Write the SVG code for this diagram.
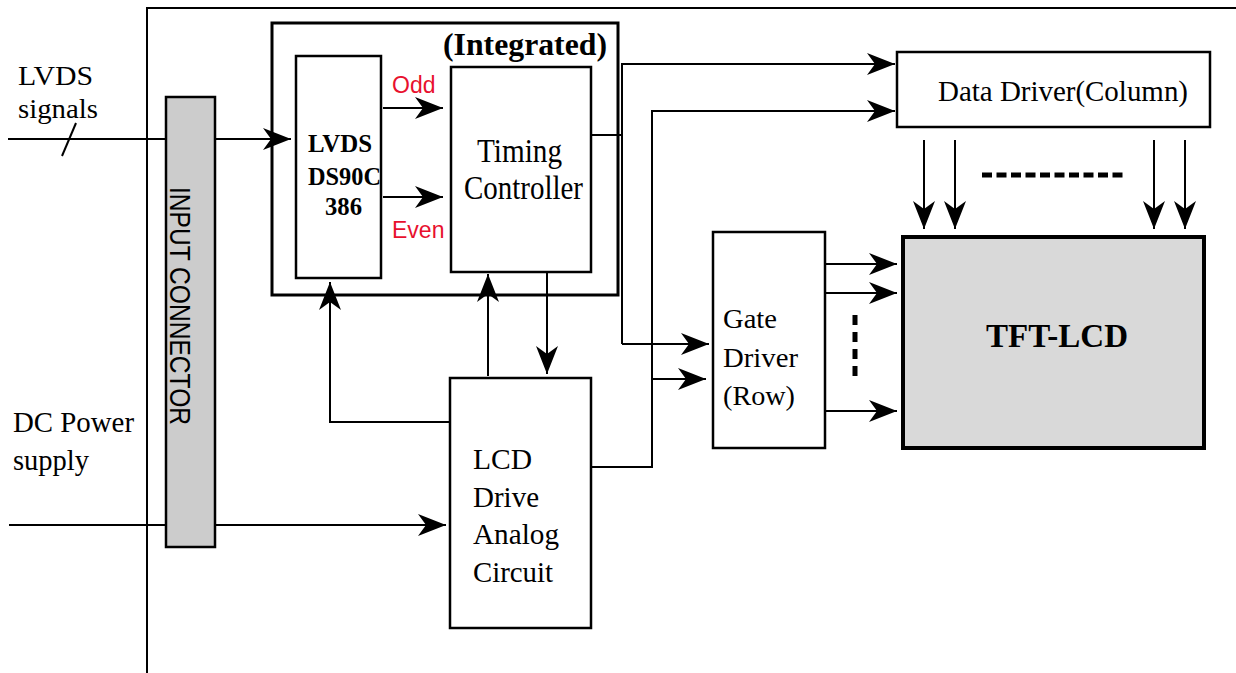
<svg xmlns="http://www.w3.org/2000/svg" width="1236" height="673" viewBox="0 0 1236 673">
<style>
.ln{fill:none;stroke:#000;stroke-width:2}
.box{fill:#fff;stroke:#000;stroke-width:2.5}
.serif{font-family:"Liberation Serif","Times New Roman",serif;fill:#000}
.bold{font-family:"Liberation Serif","Times New Roman",serif;font-weight:bold;fill:#000}
.sans{font-family:"Liberation Sans",Arial,sans-serif;fill:#000}
.red{font-family:"Liberation Sans",Arial,sans-serif;fill:#e8102e}
</style>
<defs>
<marker id="ah" markerUnits="userSpaceOnUse" markerWidth="30" markerHeight="22" refX="28" refY="11" orient="auto">
<path d="M0,0 L28,11 L0,22 L8,11 Z" fill="#000"/>
</marker>
</defs>
<rect width="1236" height="673" fill="#fff"/>
<g id="frame">
<path class="ln" d="M147,673 V8 H1236"/>
</g>
<g id="connectors">
<path class="ln" d="M8,139 H291" marker-end="url(#ah)"/>
<path class="ln" d="M62,156 L76,123"/>
<path class="ln" d="M9,525 H446" marker-end="url(#ah)"/>
<path class="ln" d="M383,108 H443" marker-end="url(#ah)"/>
<path class="ln" d="M383,197 H443" marker-end="url(#ah)"/>
<path class="ln" d="M450,422 H330 V282" marker-end="url(#ah)"/>
<path class="ln" d="M488,376 V274" marker-end="url(#ah)"/>
<path class="ln" d="M547,272 V374" marker-end="url(#ah)"/>
<path class="ln" d="M591,135 H622"/>
<path class="ln" d="M622,344 V64 H895" marker-end="url(#ah)"/>
<path class="ln" d="M622,344 H709" marker-end="url(#ah)"/>
<path class="ln" d="M591,467 H652 V111 H895" marker-end="url(#ah)"/>
<path class="ln" d="M652,379 H706" marker-end="url(#ah)"/>
<path class="ln" d="M924,140 V229" marker-end="url(#ah)"/>
<path class="ln" d="M955,140 V229" marker-end="url(#ah)"/>
<path class="ln" d="M1154,140 V229" marker-end="url(#ah)"/>
<path class="ln" d="M1185,140 V229" marker-end="url(#ah)"/>
<path d="M982,175 H1127" fill="none" stroke="#000" stroke-width="5" stroke-dasharray="10,4.5"/>
<path class="ln" d="M825,264 H897" marker-end="url(#ah)"/>
<path class="ln" d="M825,293 H897" marker-end="url(#ah)"/>
<path class="ln" d="M825,411 H897" marker-end="url(#ah)"/>
<path d="M855,315 V380" fill="none" stroke="#000" stroke-width="5" stroke-dasharray="10,7"/>
</g>
<g id="lvds-label">
<text class="serif" x="18" y="85" font-size="28" textLength="75" lengthAdjust="spacingAndGlyphs">LVDS</text>
<text class="serif" x="18" y="118" font-size="28" textLength="80" lengthAdjust="spacingAndGlyphs">signals</text>
</g>
<g id="dc-label">
<text class="serif" x="13" y="432" font-size="30" textLength="121" lengthAdjust="spacingAndGlyphs">DC Power</text>
<text class="serif" x="13" y="470" font-size="30" textLength="76" lengthAdjust="spacingAndGlyphs">supply</text>
</g>
<g id="input-connector">
<rect x="166" y="97" width="49" height="450" fill="#cccccc" stroke="#000" stroke-width="2.5"/>
<text class="sans" font-size="29" transform="translate(170,187) rotate(90)" textLength="238" lengthAdjust="spacingAndGlyphs">INPUT CONNECTOR</text>
</g>
<g id="integrated">
<rect x="272" y="23" width="346" height="272" fill="none" stroke="#000" stroke-width="3"/>
<text class="bold" x="443" y="55" font-size="32" textLength="164" lengthAdjust="spacingAndGlyphs">(Integrated)</text>
</g>
<g id="lvds-box">
<rect class="box" x="296" y="56" width="85" height="222"/>
<text class="bold" font-size="26" x="308" y="152" textLength="64" lengthAdjust="spacingAndGlyphs">LVDS</text>
<text class="bold" font-size="26" x="308" y="185" textLength="73" lengthAdjust="spacingAndGlyphs">DS90C</text>
<text class="bold" font-size="26" x="325" y="215" textLength="37" lengthAdjust="spacingAndGlyphs">386</text>
</g>
<g id="odd-even">
<text class="red" x="392" y="93" font-size="23">Odd</text>
<text class="red" x="392" y="238" font-size="23">Even</text>
</g>
<g id="timing-controller">
<rect class="box" x="451" y="67" width="140" height="205"/>
<text class="serif" x="477" y="162" font-size="33" textLength="85" lengthAdjust="spacingAndGlyphs">Timing</text>
<text class="serif" x="464" y="199" font-size="33" textLength="119" lengthAdjust="spacingAndGlyphs">Controller</text>
</g>
<g id="lcd-drive">
<rect class="box" x="450" y="378" width="141" height="250"/>
<text class="serif" x="473" y="469" font-size="30" textLength="59" lengthAdjust="spacingAndGlyphs">LCD</text>
<text class="serif" x="473" y="507" font-size="30" textLength="66" lengthAdjust="spacingAndGlyphs">Drive</text>
<text class="serif" x="473" y="544" font-size="30" textLength="86" lengthAdjust="spacingAndGlyphs">Analog</text>
<text class="serif" x="473" y="582" font-size="30" textLength="80" lengthAdjust="spacingAndGlyphs">Circuit</text>
</g>
<g id="data-driver">
<rect class="box" x="897" y="52" width="313" height="75"/>
<text class="serif" x="938" y="101" font-size="30" textLength="250" lengthAdjust="spacingAndGlyphs">Data Driver(Column)</text>
</g>
<g id="gate-driver">
<rect class="box" x="713" y="232" width="112" height="216"/>
<text class="serif" x="723" y="328" font-size="28" textLength="54" lengthAdjust="spacingAndGlyphs">Gate</text>
<text class="serif" x="723" y="367" font-size="28" textLength="75" lengthAdjust="spacingAndGlyphs">Driver</text>
<text class="serif" x="723" y="405" font-size="28" textLength="72" lengthAdjust="spacingAndGlyphs">(Row)</text>
</g>
<g id="tft-lcd">
<rect x="903" y="237" width="301" height="211" fill="#d9d9d9" stroke="#000" stroke-width="4"/>
<text class="bold" font-size="34" x="1057" y="347" text-anchor="middle" textLength="142" lengthAdjust="spacingAndGlyphs">TFT-LCD</text>
</g>
</svg>
